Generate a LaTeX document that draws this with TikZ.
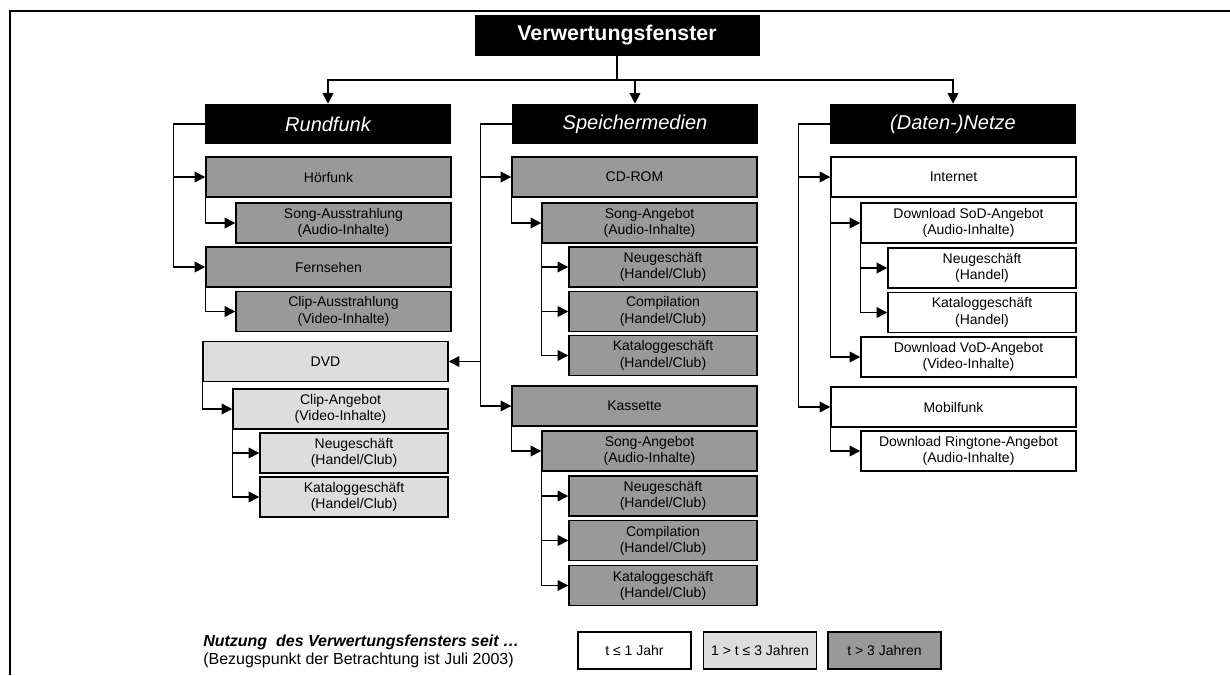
\documentclass[tikz,border=0pt]{standalone}
\usepackage{fontspec}
\setmainfont{Liberation Sans}
\usetikzlibrary{arrows.meta}
\definecolor{dkgray}{RGB}{153,153,153}
\definecolor{ltgray}{RGB}{221,221,221}
\tikzset{
  cell/.style={draw, line width=1.1pt, minimum height=30pt, inner sep=0pt, align=center, font=\fontsize{10.5}{12.2}\selectfont},
  dk/.style={cell, fill=dkgray},
  lt/.style={cell, fill=ltgray},
  wt/.style={cell, fill=white},
  lva/.style={minimum width=183.75pt},
  lvb/.style={minimum width=161.25pt},
  lvc/.style={minimum width=141pt},
  legbox/.style={minimum width=84.75pt, minimum height=27.75pt},
  head/.style={fill=black, text=white, minimum width=184.5pt, minimum height=30pt, inner sep=0pt, font=\fontsize{15}{18}\selectfont\itshape},
  conn/.style={line width=1.1pt},
  arr/.style={conn, -{Triangle[length=8pt,width=8pt]}}
}

\begin{document}
\begin{tikzpicture}[x=0.75pt,y=-0.75pt]
\useasboundingbox (0,0) rectangle (1230,675);
\draw[line width=1.8pt] (1230,11) -- (10,11) -- (10,675);

\node[fill=black, text=white, minimum width=213.75pt, minimum height=30.75pt, inner sep=0pt, font=\fontsize{16}{19}\selectfont\bfseries] (root) at (617,35.5) {Verwertungsfenster};
\node[head] (rund) at (328,124) {Rundfunk};
\node[head] (spm) at (635,124) {Speichermedien};
\node[head] (netz) at (953,124) {(Daten-)Netze};
\coordinate (bus) at (617,80);
\draw[conn] (root) -- (bus);
\draw[arr] (bus) -| (rund);
\draw[arr] (bus) -| (spm);
\draw[arr] (bus) -| (netz);

\node[dk,lva] (hoer) at (328.5,177) {Hörfunk};
\node[dk,lvb] (songaus) at (343.5,223) {Song-Ausstrahlung\\(Audio-Inhalte)};
\node[dk,lva] (fern) at (328.5,267) {Fernsehen};
\node[dk,lvb] (clipaus) at (343.5,311.5) {Clip-Ausstrahlung\\(Video-Inhalte)};
\node[lt,lva] (dvd) at (325.5,361.5) {DVD};
\node[lt,lvb] (clipang) at (340.5,409) {Clip-Angebot\\(Video-Inhalte)};
\node[lt,lvc] (dvdneu) at (354,453) {Neugeschäft\\(Handel/Club)};
\node[lt,lvc] (dvdkat) at (354,497) {Kataloggeschäft\\(Handel/Club)};

\node[dk,lva] (cdrom) at (634.5,177) {CD-ROM};
\node[dk,lvb] (cdsong) at (649.5,223) {Song-Angebot\\(Audio-Inhalte)};
\node[dk,lvc] (cdneu) at (663,267) {Neugeschäft\\(Handel/Club)};
\node[dk,lvc] (cdcomp) at (663,311.5) {Compilation\\(Handel/Club)};
\node[dk,lvc] (cdkat) at (663,355.5) {Kataloggeschäft\\(Handel/Club)};
\node[dk,lva] (kass) at (634.5,406) {Kassette};
\node[dk,lvb] (kasong) at (649.5,451) {Song-Angebot\\(Audio-Inhalte)};
\node[dk,lvc] (kaneu) at (663,496) {Neugeschäft\\(Handel/Club)};
\node[dk,lvc] (kacomp) at (663,540.5) {Compilation\\(Handel/Club)};
\node[dk,lvc] (kakat) at (663,585.5) {Kataloggeschäft\\(Handel/Club)};

\node[wt,lva] (inet) at (953.5,177) {Internet};
\node[wt,lvb] (sod) at (968.5,223) {Download SoD-Angebot\\(Audio-Inhalte)};
\node[wt,lvc] (sodneu) at (982,268) {Neugeschäft\\(Handel)};
\node[wt,lvc] (sodkat) at (982,312.5) {Kataloggeschäft\\(Handel)};
\node[wt,lvb] (vod) at (968.5,357) {Download VoD-Angebot\\(Video-Inhalte)};
\node[wt,lva] (mobil) at (953.5,407) {Mobilfunk};
\node[wt,lvb] (ring) at (968.5,451) {Download Ringtone-Angebot\\(Audio-Inhalte)};

\draw[arr] (rund.west) -- ++(-31,0) |- (hoer);
\draw[arr] (rund.west) -- ++(-31,0) |- (fern);
\draw[arr] (hoer.south west) |- (songaus);
\draw[arr] (fern.south west) |- (clipaus);
\draw[arr] (dvd.south west) |- (clipang);
\foreach \n in {dvdneu,dvdkat} \draw[arr] (clipang.south west) |- (\n);

\foreach \n in {cdrom,dvd,kass} \draw[arr] (spm.west) -- ++(-31,0) |- (\n);
\draw[arr] (cdrom.south west) |- (cdsong);
\foreach \n in {cdneu,cdcomp,cdkat} \draw[arr] (cdsong.south west) |- (\n);
\draw[arr] (kass.south west) |- (kasong);
\foreach \n in {kaneu,kacomp,kakat} \draw[arr] (kasong.south west) |- (\n);

\foreach \n in {inet,mobil} \draw[arr] (netz.west) -- ++(-31,0) |- (\n);
\foreach \n in {sod,vod} \draw[arr] (inet.south west) |- (\n);
\foreach \n in {sodneu,sodkat} \draw[arr] (sod.south west) |- (\n);
\draw[arr] (mobil.south west) |- (ring);

\node[anchor=west, align=left, inner sep=0pt, font=\fontsize{12}{13.5}\selectfont] (legtxt) at (203,651) {\textbf{\textit{Nutzung\ \ des Verwertungsfensters seit \dots}}\\(Bezugspunkt der Betrachtung ist Juli 2003)};
\node[wt,legbox] (leg1) at (634.5,650.5) {t ≤ 1 Jahr};
\node[lt,legbox] (leg2) at (760,650.5) {1 > t ≤ 3 Jahren};
\node[dk,legbox] (leg3) at (884.5,650.5) {t > 3 Jahren};
\end{tikzpicture}
\end{document}
